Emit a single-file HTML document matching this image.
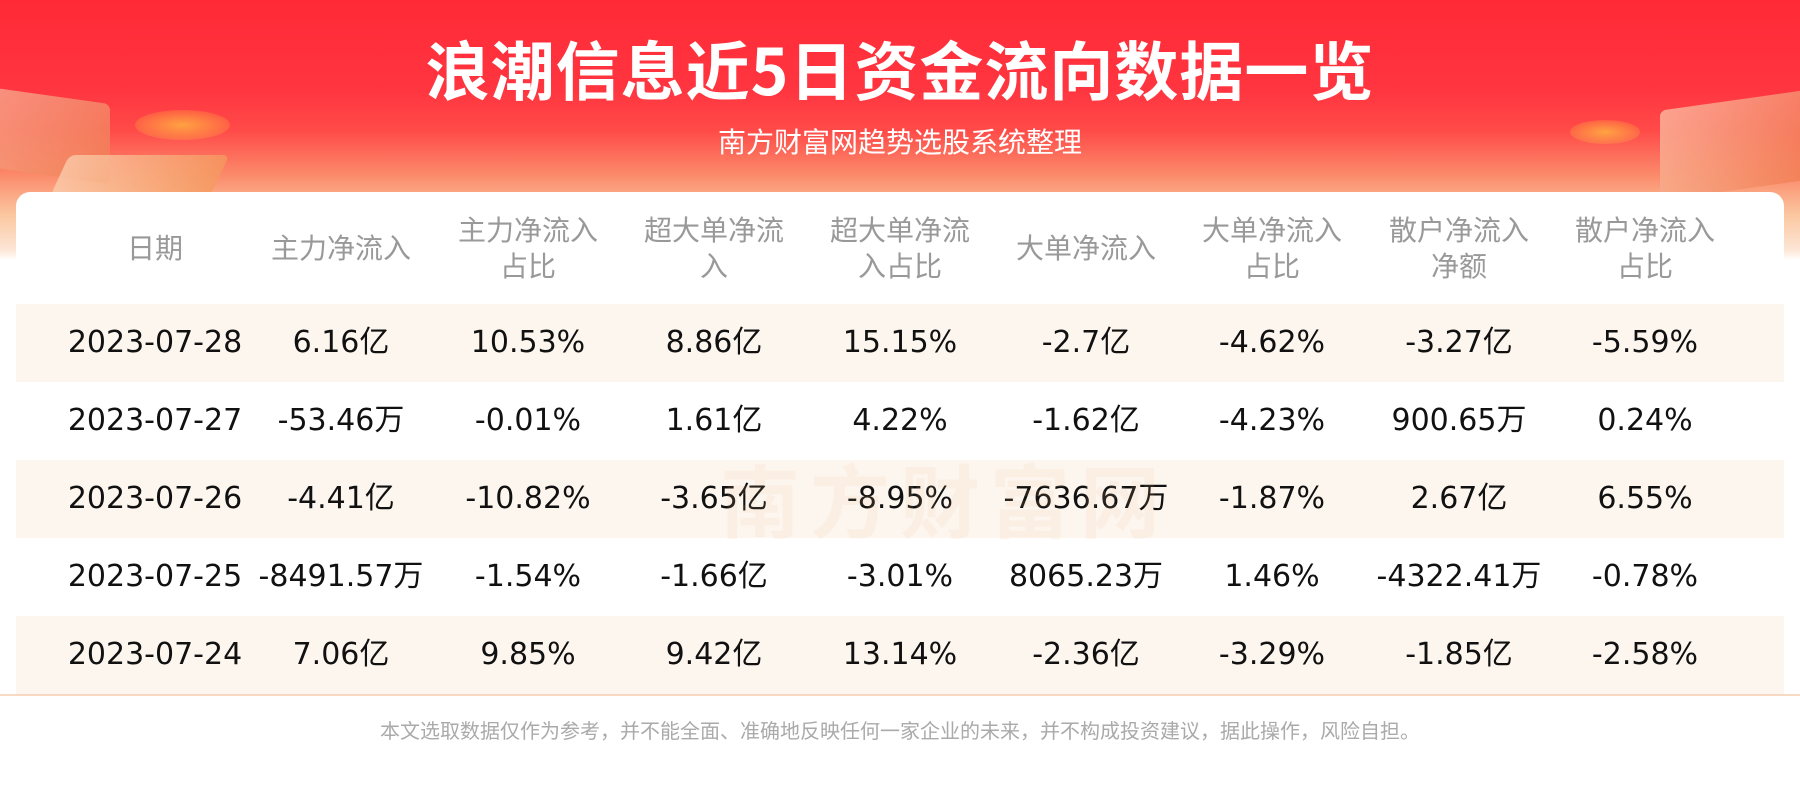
<!DOCTYPE html>
<html><head><meta charset="utf-8"><style>
*{margin:0;padding:0;box-sizing:border-box}
body{width:1800px;height:800px;overflow:hidden;background:#fff;font-family:"DejaVu Sans","Noto Sans CJK SC",sans-serif;position:relative}
.hdr{position:absolute;left:0;top:0;width:1800px;height:260px;background:linear-gradient(180deg,#ff2a36 0px,#ff3540 90px,#ff4a48 130px,#fb8a6a 175px,#fbc7a0 215px,#fde6d6 250px,#fff 260px)}
.deco{position:absolute;border-radius:6px;opacity:.75}
.title{position:absolute;left:0;width:1800px;top:28px;text-align:center;color:#fff;font-size:64px;font-weight:bold;letter-spacing:1px;line-height:80px;font-family:"Noto Sans CJK SC",sans-serif}
.sub{position:absolute;left:0;width:1800px;top:125px;text-align:center;color:#fff;font-size:28px;line-height:36px}
.card{position:absolute;left:16px;top:192px;width:1768px;height:502px;background:#fff;border-radius:14px 14px 0 0}
.row{position:absolute;left:16px;width:1768px;height:78px}
.cell{position:absolute;width:186px;margin-left:-93px;text-align:center;font-size:30px;color:#111;top:0;height:78px;line-height:78px;white-space:nowrap}
.h .cell{color:#999;font-size:28px;line-height:36px;display:flex;align-items:center;justify-content:center;height:111px}
.alt{background:#fdf6ef}
.foot{position:absolute;left:0;width:1800px;top:715px;text-align:center;font-size:20px;color:#aaa}
.line{position:absolute;left:0;top:694px;width:1800px;height:2px;background:#f8d9c4}
.wm{position:absolute;left:720px;top:440px;font-size:80px;color:rgba(240,190,150,.12);font-weight:bold;letter-spacing:10px}
</style></head><body>
<div class="hdr"></div>
<div class="deco" style="left:-20px;top:95px;width:130px;height:80px;background:linear-gradient(135deg,#f7b39a,#f07a4e);transform:skewY(8deg)"></div>
<div class="deco" style="left:60px;top:155px;width:160px;height:40px;background:linear-gradient(90deg,#fbd0b0,#f49a5e);transform:skewX(-25deg)"></div>
<div class="deco" style="left:135px;top:110px;width:95px;height:30px;background:radial-gradient(#ffc040,rgba(255,120,60,0));border-radius:50%"></div>
<div class="deco" style="left:1660px;top:100px;width:150px;height:90px;background:linear-gradient(135deg,#fbc3aa,#f07a4e);transform:skewY(-8deg)"></div>
<div class="deco" style="left:1570px;top:120px;width:70px;height:24px;background:radial-gradient(#ffc040,rgba(255,120,60,0));border-radius:50%"></div>
<div class="title">浪潮信息近5日资金流向数据一览</div>
<div class="sub">南方财富网趋势选股系统整理</div>
<div class="card"></div>
<div class="row h" style="top:193px">
<div class="cell" style="left:139px">日期</div>
<div class="cell" style="left:325px">主力净流入</div>
<div class="cell" style="left:512px">主力净流入<br>占比</div>
<div class="cell" style="left:698px">超大单净流<br>入</div>
<div class="cell" style="left:884px">超大单净流<br>入占比</div>
<div class="cell" style="left:1070px">大单净流入</div>
<div class="cell" style="left:1256px">大单净流入<br>占比</div>
<div class="cell" style="left:1443px">散户净流入<br>净额</div>
<div class="cell" style="left:1629px">散户净流入<br>占比</div>
</div>
<div class="row alt" style="top:304px">
<div class="cell" style="left:139px">2023-07-28</div><div class="cell" style="left:325px">6.16亿</div><div class="cell" style="left:512px">10.53%</div><div class="cell" style="left:698px">8.86亿</div><div class="cell" style="left:884px">15.15%</div><div class="cell" style="left:1070px">-2.7亿</div><div class="cell" style="left:1256px">-4.62%</div><div class="cell" style="left:1443px">-3.27亿</div><div class="cell" style="left:1629px">-5.59%</div></div>
<div class="row" style="top:382px">
<div class="cell" style="left:139px">2023-07-27</div><div class="cell" style="left:325px">-53.46万</div><div class="cell" style="left:512px">-0.01%</div><div class="cell" style="left:698px">1.61亿</div><div class="cell" style="left:884px">4.22%</div><div class="cell" style="left:1070px">-1.62亿</div><div class="cell" style="left:1256px">-4.23%</div><div class="cell" style="left:1443px">900.65万</div><div class="cell" style="left:1629px">0.24%</div></div>
<div class="row alt" style="top:460px">
<div class="cell" style="left:139px">2023-07-26</div><div class="cell" style="left:325px">-4.41亿</div><div class="cell" style="left:512px">-10.82%</div><div class="cell" style="left:698px">-3.65亿</div><div class="cell" style="left:884px">-8.95%</div><div class="cell" style="left:1070px">-7636.67万</div><div class="cell" style="left:1256px">-1.87%</div><div class="cell" style="left:1443px">2.67亿</div><div class="cell" style="left:1629px">6.55%</div></div>
<div class="row" style="top:538px">
<div class="cell" style="left:139px">2023-07-25</div><div class="cell" style="left:325px">-8491.57万</div><div class="cell" style="left:512px">-1.54%</div><div class="cell" style="left:698px">-1.66亿</div><div class="cell" style="left:884px">-3.01%</div><div class="cell" style="left:1070px">8065.23万</div><div class="cell" style="left:1256px">1.46%</div><div class="cell" style="left:1443px">-4322.41万</div><div class="cell" style="left:1629px">-0.78%</div></div>
<div class="row alt" style="top:616px">
<div class="cell" style="left:139px">2023-07-24</div><div class="cell" style="left:325px">7.06亿</div><div class="cell" style="left:512px">9.85%</div><div class="cell" style="left:698px">9.42亿</div><div class="cell" style="left:884px">13.14%</div><div class="cell" style="left:1070px">-2.36亿</div><div class="cell" style="left:1256px">-3.29%</div><div class="cell" style="left:1443px">-1.85亿</div><div class="cell" style="left:1629px">-2.58%</div></div>
<div class="wm">南方财富网</div>
<div class="line"></div>
<div class="foot">本文选取数据仅作为参考，并不能全面、准确地反映任何一家企业的未来，并不构成投资建议，据此操作，风险自担。</div>
</body></html>
